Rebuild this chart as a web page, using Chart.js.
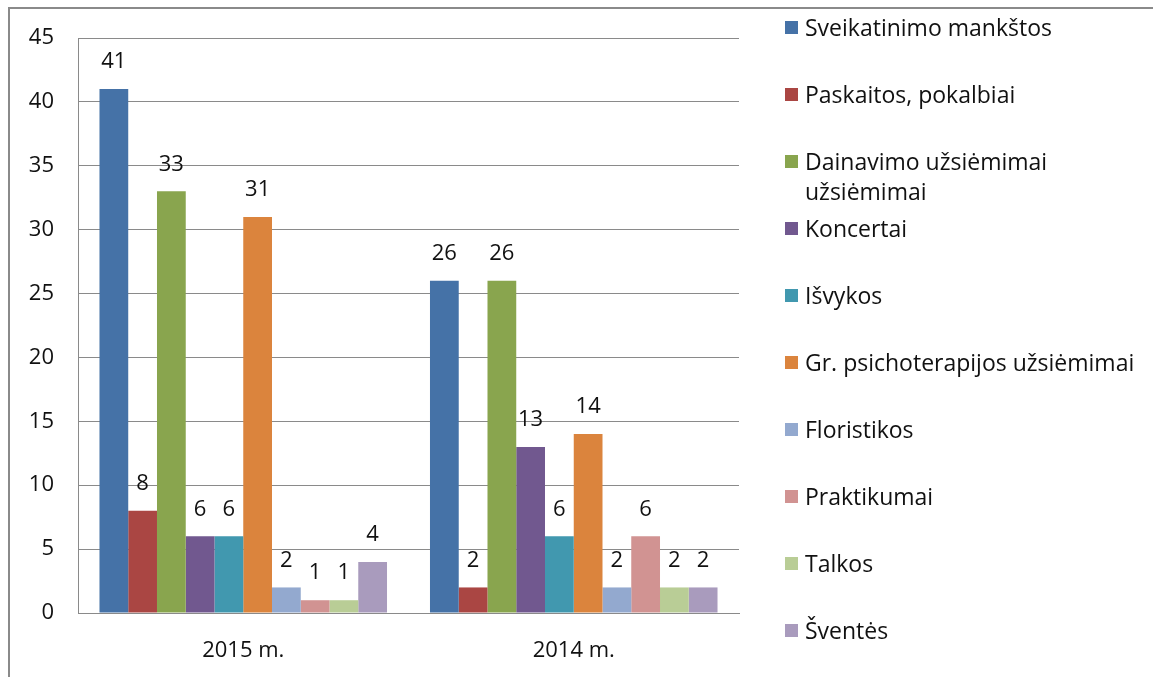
<!DOCTYPE html>
<html>
<head>
<meta charset="utf-8">
<script src="https://cdn.jsdelivr.net/npm/chart.js@4"></script>
<style>
  html, body { margin: 0; padding: 0; background: #fff; overflow: hidden; }
  #wrap { position: relative; width: 1153px; height: 677px; }
  #frame { position: absolute; left: 8px; top: 7px; width: 1200px; height: 700px;
           border-top: 2px solid #8a8a8a; border-left: 2px solid #8a8a8a; }
  canvas { position: absolute; left: 0; top: 0; }
  #legend { position: absolute; left: 785px; top: 12px; font-family: 'Open Sans', sans-serif;
            font-size: 23px; color: #111; }
  .item { position: relative; height: 67px; }
  .box { position: absolute; left: 0; top: 9px; width: 13px; height: 13px; }
  .txt { position: absolute; left: 20px; top: 0; width: 345px; line-height: 30px; }
</style>
</head>
<body>
<div id="wrap">
  <div id="frame"></div>
  <canvas id="chart" width="1153" height="677"></canvas>
  <div id="legend"></div>
</div>
<script>
const categories = ['2015 m.', '2014 m.'];
const seriesNames = [
  'Sveikatinimo mankštos',
  'Paskaitos, pokalbiai',
  'Dainavimo užsiėmimai užsiėmimai',
  'Koncertai',
  'Išvykos',
  'Gr. psichoterapijos užsiėmimai',
  'Floristikos',
  'Praktikumai',
  'Talkos',
  'Šventės'
];
const values2015 = [41, 8, 33, 6, 6, 31, 2, 1, 1, 4];
const values2014 = [26, 2, 26, 13, 6, 14, 2, 6, 2, 2];
const colors = ['#4572A7', '#AA4643', '#89A54E', '#71588F', '#4198AF',
                '#DB843D', '#93A9CF', '#D19392', '#B9CD96', '#A99BBD'];
const yTicks = [0, 5, 10, 15, 20, 25, 30, 35, 40, 45];

const FONT = "'Open Sans', sans-serif";

// value labels above each bar
const barLabels = {
  id: 'barLabels',
  afterDatasetsDraw(chart) {
    const ctx = chart.ctx;
    ctx.save();
    ctx.font = '22px ' + FONT;
    ctx.fillStyle = '#111';
    ctx.textAlign = 'center';
    ctx.textBaseline = 'middle';
    chart.data.datasets.forEach((ds, i) => {
      const meta = chart.getDatasetMeta(i);
      meta.data.forEach((bar, j) => {
        ctx.fillText(String(ds.data[j]), bar.x, bar.y - 27);
      });
    });
    ctx.restore();
  }
};

const datasets = seriesNames.map((name, i) => ({
  label: name,
  data: [values2015[i], values2014[i]],
  backgroundColor: colors[i],
  borderWidth: 0,
  barPercentage: 1,
  categoryPercentage: 0.87
}));

const chart = new Chart(document.getElementById('chart').getContext('2d'), {
  type: 'bar',
  data: { labels: categories, datasets },
  options: {
    responsive: false,
    animation: false,
    layout: { padding: { left: 0, right: 414, top: 38, bottom: 0 } },
    plugins: {
      legend: { display: false },
      tooltip: { enabled: false }
    },
    scales: {
      x: {
        grid: { display: false },
        border: { display: true, color: '#8a8a8a', width: 1 },
        ticks: { color: '#111', font: { family: FONT, size: 22 }, padding: 17 },
        afterFit(scale) { scale.height = 64; }
      },
      y: {
        min: 0,
        max: 45,
        afterBuildTicks(scale) { scale.ticks = yTicks.map(v => ({ value: v })); },
        grid: { color: '#8a8a8a', lineWidth: 1, drawTicks: false },
        border: { display: true, color: '#8a8a8a', width: 1 },
        ticks: { color: '#111', font: { family: FONT, size: 22 }, padding: 24 },
        afterFit(scale) { scale.width = 78; }
      }
    }
  },
  plugins: [barLabels]
});

// legend built from the chart's datasets
const legend = document.getElementById('legend');
chart.data.datasets.forEach(ds => {
  const item = document.createElement('div');
  item.className = 'item';
  const box = document.createElement('div');
  box.className = 'box';
  box.style.background = ds.backgroundColor;
  const txt = document.createElement('div');
  txt.className = 'txt';
  txt.textContent = ds.label;
  item.appendChild(box);
  item.appendChild(txt);
  legend.appendChild(item);
});
</script>
</body>
</html>
